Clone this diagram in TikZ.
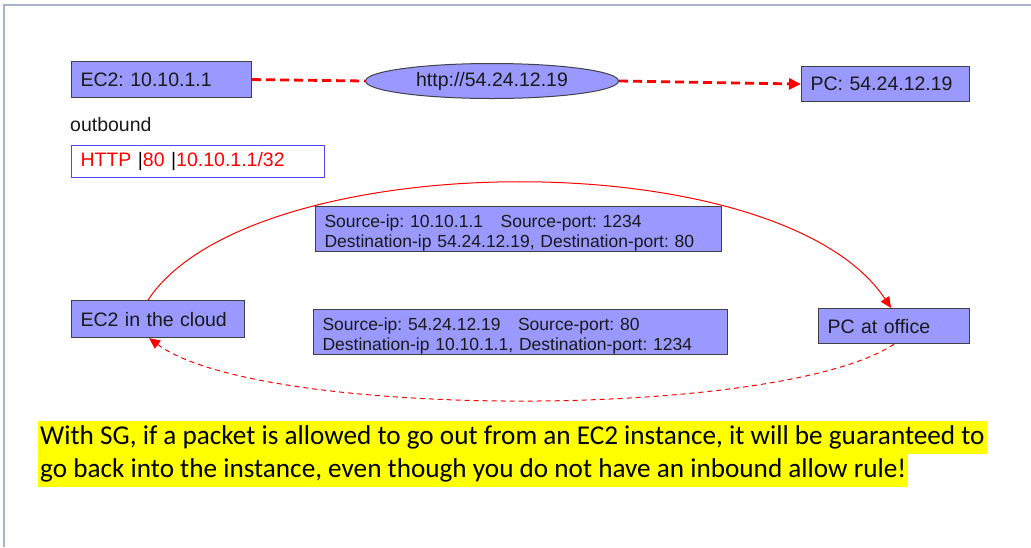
\documentclass[tikz,border=0pt]{standalone}
\usepackage{fontspec}
\setmainfont{Liberation Sans}
\newfontfamily\calfont{Carlito}
\usetikzlibrary{arrows.meta,shapes.geometric}
\definecolor{boxfill}{HTML}{9999FF}
\definecolor{boxline}{HTML}{404048}
\definecolor{framecol}{HTML}{A8B4CC}
\definecolor{hiyellow}{HTML}{FFFF00}
\definecolor{rulered}{HTML}{FF0000}
\definecolor{ruleblue}{HTML}{4A4AF0}
\frenchspacing
\newcommand{\topstrut}{\rule{0pt}{21pt}}
\tikzset{
  boxnode/.style={draw=boxline, fill=boxfill, line width=1.1pt, anchor=north west,
    inner xsep=9pt, inner ysep=0pt, align=left, text=black!90,
    font=\fontsize{19.5}{20}\selectfont},
  srcnode/.style={boxnode, font=\fontsize{17.5}{20}\selectfont},
  thickdash/.style={draw=red, line width=2.8pt, dash pattern=on 9pt off 5pt},
  thinarc/.style={draw=red, line width=1pt},
  dasharc/.style={draw=red, line width=1pt, dash pattern=on 5pt off 4pt},
  hinode/.style={fill=hiyellow, anchor=north west, inner xsep=2pt, inner ysep=0pt,
    minimum height=33pt, font=\calfont\fontsize{27.2}{28}\selectfont, text=black}
}
\begin{document}
\begin{tikzpicture}[x=1pt,y=-1pt]
\useasboundingbox (0,0) rectangle (1031,547);
% frame
\draw[framecol, line width=1.2pt] (4,547) -- (4,5) -- (1031,5);

% top row
\node[boxnode, text width=162pt, minimum height=36pt] (ec2) at (71,61) {EC2: 10.10.1.1};
\node[draw=boxline, fill=boxfill, line width=1pt, ellipse, minimum width=253pt, minimum height=35pt,
  inner sep=0pt, font=\fontsize{19.5}{20}\selectfont, text=black!90] (url) at (492,81) {\raisebox{-3pt}{http://54.24.12.19}};
\node[boxnode, text width=150pt, minimum height=35pt] (pc) at (801,66) {PC: 54.24.12.19};

\draw[thickdash] (ec2.east) -- (url.west);
\draw[thickdash, -{Triangle[length=12pt,width=11pt]}] (url.east) -- (pc.west);

% outbound rule
\node[anchor=west, inner sep=0pt, font=\fontsize{19.5}{20}\selectfont, text=black!90] (outb) at (70,125) {outbound};
\node[draw=ruleblue, fill=white, line width=1pt, anchor=north west, inner xsep=9pt, inner ysep=0pt,
  text width=235pt, minimum height=32pt, align=left, font=\fontsize{19.5}{20}\selectfont] (rule) at (71,145)
  {\textcolor{rulered}{HTTP }\textcolor{black}{|}\textcolor{rulered}{80 }\textcolor{black}{|}\textcolor{rulered}{10.10.1.1/32}};

% packet boxes
\node[srcnode, text width=388pt, minimum height=43pt] (src1) at (315,206)
  {\topstrut Source-ip: 10.10.1.1\quad Source-port: 1234\\Destination-ip 54.24.12.19, Destination-port: 80};
\node[srcnode, text width=396pt, minimum height=41pt] (src2) at (313,309)
  {\topstrut Source-ip: 54.24.12.19\quad Source-port: 80\\Destination-ip 10.10.1.1, Destination-port: 1234};

% endpoints
\node[boxnode, text width=155pt, minimum height=37pt] (ec2c) at (71,300) {EC2 in the cloud};
\node[boxnode, text width=133pt, minimum height=35pt] (pco) at (818,308) {PC at office};

\coordinate (ec2top) at ([xshift=-10pt]ec2c.north);
\coordinate (ec2bot) at ([xshift=-9pt]ec2c.south);
\coordinate (pcotop) at ([xshift=-3pt]pco.north);

\draw[thinarc, -{Triangle[length=11pt,width=10pt]}] (ec2top) .. controls (250,145) and (780,140) .. (pcotop);
\draw[dasharc, -{Triangle[length=11pt,width=10pt]}] (pco.south) .. controls (780,420) and (260,420) .. (ec2bot);

% highlighted note
\node[hinode] (note1) at (38,421) {With SG, if a packet is allowed to go out from an EC2 instance, it will be guaranteed to};
\node[hinode] (note2) at (38,454) {go back into the instance, even though you do not have an inbound allow rule!};
\end{tikzpicture}
\end{document}
